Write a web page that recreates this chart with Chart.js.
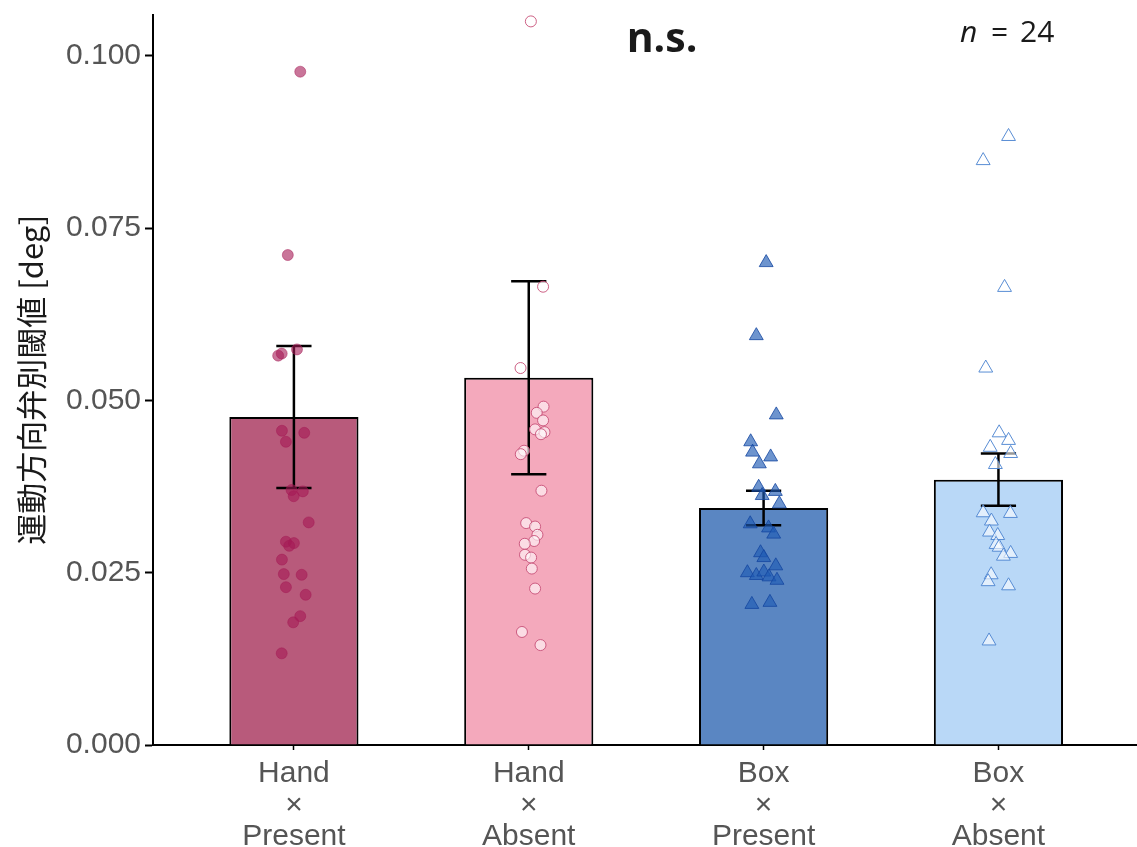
<!DOCTYPE html>
<html>
<head>
<meta charset="utf-8">
<script src="https://cdn.jsdelivr.net/npm/chart.js@4.4.1/dist/chart.umd.min.js"></script>
<style>
  body { margin: 0; background: #fff; }
  #wrap { width: 1137px; height: 847px; position: relative; }
</style>
</head>
<body>
<div id="wrap"><canvas id="thresholdChart"></canvas></div>
<script>
// conditions (x tick labels, three lines each)
const handOrBox = ['Hand', 'Hand', 'Box', 'Box'];
const feedback = ['Present', 'Absent', 'Present', 'Absent'];

// bar heights (mean) and standard errors
const means = [0.0476, 0.0533, 0.0344, 0.0385];
const sems = [0.0103, 0.0140, 0.0025, 0.0038];

// individual participants (value + horizontal jitter in category units)
const handPresentVals = [0.0977, 0.0711, 0.0574, 0.0568, 0.0565, 0.0456, 0.0453, 0.0440, 0.0370, 0.0368, 0.0361, 0.0323,
    0.0295, 0.0293, 0.0289, 0.0269, 0.0248, 0.0247, 0.0229, 0.0218, 0.0187, 0.0178, 0.0133];
const handPresentJit = [0.027, -0.026, 0.013, -0.052, -0.067, -0.051, 0.044, -0.034, -0.010, 0.038, -0.001, 0.063,
    -0.034, 0, -0.020, -0.051, -0.043, 0.033, -0.034, 0.050, 0.027, -0.003, -0.052];

const handAbsentVals = [0.1050, 0.0665, 0.0547, 0.0491, 0.0482, 0.0471, 0.0458, 0.0454, 0.0451, 0.0427, 0.0422, 0.0369,
    0.0322, 0.0317, 0.0305, 0.0296, 0.0292, 0.0276, 0.0272, 0.0256, 0.0227, 0.0164, 0.0145];
const handAbsentJit = [0.009, 0.061, -0.035, 0.063, 0.034, 0.061, 0.027, 0.067, 0.052, -0.020, -0.034, 0.054,
    -0.011, 0.027, 0.037, 0.023, -0.017, -0.016, 0.010, 0.013, 0.027, -0.029, 0.050];

const boxPresentVals = [0.0700, 0.0594, 0.0479, 0.0440, 0.0425, 0.0418, 0.0408, 0.0374, 0.0368, 0.0362, 0.0350, 0.0321,
    0.0315, 0.0306, 0.0279, 0.0272, 0.0260, 0.0250, 0.0246, 0.0251, 0.0244, 0.0239, 0.0204, 0.0207];
const boxPresentJit = [0.011, -0.031, 0.054, -0.055, -0.047, 0.030, -0.018, -0.021, 0.050, -0.006, 0.067, -0.057,
    0.021, 0.043, -0.013, 0.001, 0.052, -0.069, -0.031, 0.001, 0.023, 0.057, -0.050, 0.027];

const boxAbsentVals = [0.0883, 0.0848, 0.0664, 0.0547, 0.0453, 0.0442, 0.0432, 0.0423, 0.0407, 0.0337, 0.0336, 0.0325,
    0.0309, 0.0304, 0.0291, 0.0287, 0.0278, 0.0274, 0.0247, 0.0237, 0.0231, 0.0151];
const boxAbsentJit = [0.043, -0.065, 0.026, -0.054, 0.003, 0.043, -0.035, 0.052, -0.013, -0.065, 0.051, -0.030,
    -0.038, -0.003, -0.010, 0.003, 0.052, 0.021, -0.031, -0.044, 0.043, -0.040];

const yTicks = [0, 0.025, 0.05, 0.075, 0.1];

const barColors = ['#b85a7b', '#f4a9bc', '#5a86c2', '#b9d8f7'];

// helpers
const toPoints = (vals, jit, i) => vals.map((v, k) => ({ x: i + jit[k], y: v }));

// error bars as one broken line (stem + two caps per bar)
const capHalf = 0.075;
const errLine = [];
means.forEach((m, i) => {
    const lo = m - sems[i], hi = m + sems[i];
    errLine.push({ x: i, y: lo }, { x: i, y: hi }, { x: i, y: null });
    errLine.push({ x: i - capHalf, y: hi }, { x: i + capHalf, y: hi }, { x: i, y: null });
    errLine.push({ x: i - capHalf, y: lo }, { x: i + capHalf, y: lo }, { x: i, y: null });
});

// annotation text (n.s. and n = 24)
const annotations = {
    id: 'annotations',
    afterDraw(chart) {
        const c = chart.ctx;
        c.save();
        c.fillStyle = '#1a1a1a';
        c.textBaseline = 'alphabetic';
        c.textAlign = 'center';
        c.font = 'bold 41px "Open Sans", "Noto Sans", sans-serif';
        c.fillText('n.s.', 662, 52);
        c.textAlign = 'left';
        c.font = 'italic 30px "Open Sans", "Noto Sans", sans-serif';
        c.fillText('n', 960, 42);
        c.font = '30px "Open Sans", "Noto Sans", sans-serif';
        c.fillText('=', 991, 42);
        c.fillText('24', 1020, 42);
        c.restore();
    }
};

const tickFont = { family: '"Liberation Sans", Arial, sans-serif', size: 30 };

const ctx = document.getElementById('thresholdChart').getContext('2d');
new Chart(ctx, {
    type: 'bar',
    data: {
        datasets: [
            {
                type: 'scatter',
                data: toPoints(handPresentVals, handPresentJit, 0),
                pointStyle: 'circle',
                pointRadius: 5.5,
                backgroundColor: 'rgba(165, 25, 85, 0.6)',
                borderColor: 'rgba(165, 25, 85, 0.6)',
                borderWidth: 0.8,
                order: 1
            },
            {
                type: 'scatter',
                data: toPoints(handAbsentVals, handAbsentJit, 1),
                pointStyle: 'circle',
                pointRadius: 5.5,
                backgroundColor: 'rgba(255, 255, 255, 0.6)',
                borderColor: 'rgba(200, 80, 120, 0.9)',
                borderWidth: 1,
                order: 1
            },
            {
                type: 'scatter',
                data: toPoints(boxPresentVals, boxPresentJit, 2),
                pointStyle: 'triangle',
                pointRadius: 8,
                backgroundColor: 'rgba(30, 90, 180, 0.65)',
                borderColor: 'rgba(20, 70, 160, 0.8)',
                borderWidth: 1,
                order: 1
            },
            {
                type: 'scatter',
                data: toPoints(boxAbsentVals, boxAbsentJit, 3),
                pointStyle: 'triangle',
                pointRadius: 8,
                backgroundColor: 'rgba(255, 255, 255, 0.6)',
                borderColor: 'rgba(80, 135, 210, 0.95)',
                borderWidth: 1,
                order: 1
            },
            {
                type: 'line',
                data: errLine,
                borderColor: '#000',
                borderWidth: 2.5,
                pointRadius: 0,
                spanGaps: false,
                fill: false,
                order: 2
            },
            {
                type: 'bar',
                data: means.map((m, i) => ({ x: i, y: m })),
                backgroundColor: barColors,
                borderColor: '#000',
                borderWidth: 2,
                barPercentage: 0.55,
                categoryPercentage: 1,
                order: 3
            }
        ]
    },
    options: {
        responsive: true,
        maintainAspectRatio: false,
        animation: false,
        layout: { autoPadding: false, padding: { top: 13, right: 0, bottom: 0, left: 0 } },
        plugins: {
            legend: { display: false },
            tooltip: { enabled: false }
        },
        scales: {
            x: {
                type: 'linear',
                min: -0.6,
                max: 3.59,
                offset: false,
                afterBuildTicks: scale => { scale.ticks = handOrBox.map((_, i) => ({ value: i })); },
                afterFit: scale => { scale.height = 102; },
                grid: {
                    offset: false,
                    drawOnChartArea: false,
                    drawTicks: true,
                    tickLength: 5,
                    tickColor: '#000',
                    tickWidth: 1.5
                },
                border: { display: true, color: '#000', width: 2 },
                ticks: {
                    autoSkip: false,
                    maxRotation: 0,
                    padding: 8,
                    color: '#555',
                    font: { ...tickFont, lineHeight: 1.05 },
                    callback: v => [handOrBox[v], '×', feedback[v]]
                }
            },
            y: {
                min: 0,
                max: 0.106,
                afterBuildTicks: scale => { scale.ticks = yTicks.map(v => ({ value: v })); },
                afterFit: scale => { scale.width = 153; },
                grid: {
                    drawOnChartArea: false,
                    drawTicks: true,
                    tickLength: 8,
                    tickColor: '#000',
                    tickWidth: 2
                },
                border: { display: true, color: '#000', width: 2 },
                ticks: {
                    padding: 4,
                    color: '#555',
                    font: { ...tickFont, lineHeight: 0.7 },
                    callback: v => v.toFixed(3)
                },
                title: {
                    display: true,
                    text: '運動方向弁別閾値 [deg]',
                    color: '#1a1a1a',
                    font: { family: '"Noto Sans CJK JP", "Noto Sans", sans-serif', size: 31, lineHeight: 1.2 },
                    padding: { top: 13, bottom: 0 }
                }
            }
        }
    },
    plugins: [annotations]
});
</script>
</body>
</html>
